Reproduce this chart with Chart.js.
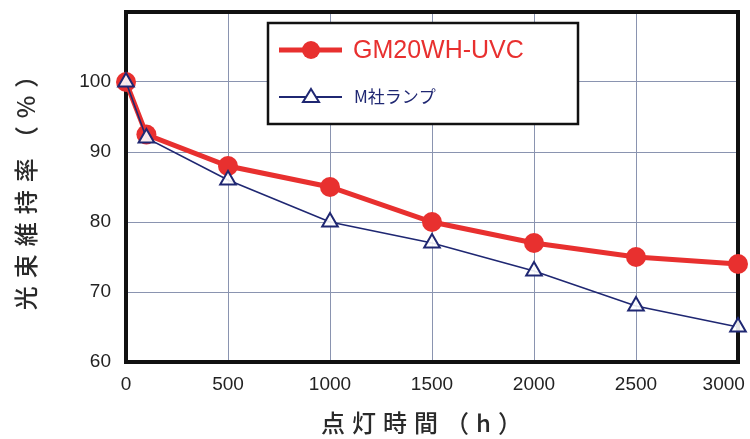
<!DOCTYPE html>
<html><head><meta charset="utf-8">
<script src="https://cdn.jsdelivr.net/npm/chart.js@4"></script>
<style>html,body{margin:0;padding:0;background:#fff}#w{width:750px;height:439px}</style>
</head><body><div id="w"><canvas id="c"></canvas></div>
<script>
const hours = [0, 100, 500, 1000, 1500, 2000, 2500, 3000];
const gmValues = [100, 92.5, 88, 85, 80, 77, 75, 74];
const mValues = [100, 92, 86, 80, 77, 73, 68, 65];
const xTicks = [0, 500, 1000, 1500, 2000, 2500, 3000];
const yTicks = [60, 70, 80, 90, 100];
const seriesNames = ['GM20WH-UVC', 'M社ランプ'];
const yTitle = '光束維持率（%）';
const xTitle = '点灯時間（h）';

const RED = '#e8302f', NAVY = '#1f2772';
const cjk = '"Noto Sans CJK JP", "Noto Sans", sans-serif';
const latin = '"Liberation Sans", Arial, sans-serif';

const decor = {
  id: 'decor',
  beforeDatasetsDraw(chart) {
    const {ctx, chartArea: a} = chart;
    ctx.save();
    ctx.strokeStyle = '#111';
    ctx.lineWidth = 4;
    ctx.strokeRect(a.left, a.top, a.right - a.left, a.bottom - a.top);
    ctx.restore();
  },
  afterDraw(chart) {
    const {ctx} = chart;
    ctx.save();
    // legend box
    ctx.fillStyle = '#fff';
    ctx.fillRect(268, 23, 310, 101);
    ctx.strokeStyle = '#111';
    ctx.lineWidth = 2.5;
    ctx.strokeRect(268, 23, 310, 101);
    // red sample
    ctx.strokeStyle = RED; ctx.lineWidth = 5;
    ctx.beginPath(); ctx.moveTo(279, 50); ctx.lineTo(342, 50); ctx.stroke();
    ctx.fillStyle = RED;
    ctx.beginPath(); ctx.arc(311, 50, 9, 0, Math.PI * 2); ctx.fill();
    ctx.font = '25px ' + latin;
    ctx.textBaseline = 'middle'; ctx.textAlign = 'left';
    ctx.fillText(seriesNames[0], 353, 51);
    // navy sample
    ctx.strokeStyle = NAVY; ctx.lineWidth = 1.8;
    ctx.beginPath(); ctx.moveTo(279, 97); ctx.lineTo(342, 97); ctx.stroke();
    ctx.fillStyle = '#fff'; ctx.lineWidth = 2;
    ctx.beginPath(); ctx.moveTo(311, 89); ctx.lineTo(319, 102); ctx.lineTo(303, 102); ctx.closePath();
    ctx.fill(); ctx.stroke();
    ctx.fillStyle = NAVY;
    ctx.font = '17px ' + cjk;
    ctx.fillText(seriesNames[1], 354, 97);
    // axis titles
    ctx.fillStyle = '#2a2a2a';
    ctx.font = '500 24px ' + cjk;
    ctx.letterSpacing = '7px';
    ctx.textAlign = 'center';
    ctx.fillText(xTitle, 425, 423);
    ctx.translate(26, 183);
    ctx.rotate(-Math.PI / 2);
    ctx.letterSpacing = '8px';
    ctx.fillText(yTitle, 0, 0);
    ctx.restore();
  }
};

new Chart(document.getElementById('c'), {
  type: 'line',
  data: {
    datasets: [
      {
        label: seriesNames[0],
        data: hours.map((h, i) => ({x: h, y: gmValues[i]})),
        borderColor: RED, backgroundColor: RED,
        borderWidth: 5, pointRadius: 10, pointStyle: 'circle',
        pointBackgroundColor: RED, pointBorderColor: RED, pointBorderWidth: 0,
        tension: 0, order: 2, clip: false
      },
      {
        label: seriesNames[1],
        data: hours.map((h, i) => ({x: h, y: mValues[i]})),
        borderColor: NAVY, backgroundColor: '#fff',
        borderWidth: 1.6, pointRadius: 9, pointStyle: 'triangle',
        pointBackgroundColor: 'rgba(255,255,255,0.9)', pointBorderColor: NAVY, pointBorderWidth: 2,
        tension: 0, order: 1, clip: false
      }
    ]
  },
  options: {
    responsive: true, maintainAspectRatio: false, animation: false,
    devicePixelRatio: 1,
    layout: {padding: {left: 0, right: 12, top: 12, bottom: 0}},
    plugins: {legend: {display: false}, tooltip: {enabled: false}},
    scales: {
      x: {
        type: 'linear', min: 0, max: 3000,
        afterBuildTicks: s => { s.ticks = xTicks.map(v => ({value: v})); },
        afterFit: s => { s.height = 77; s.paddingLeft = 0; s.paddingRight = 0; },
        grid: {color: '#8a94b0', lineWidth: 1, drawTicks: false},
        border: {display: false},
        ticks: {
          color: '#222', font: {size: 19, family: latin},
          padding: 11, maxRotation: 0, autoSkip: false,
          callback: v => v === 3000 ? String(v) + '\u2002\u2002\u2002' : String(v)
        }
      },
      y: {
        min: 60, max: 110,
        afterBuildTicks: s => { s.ticks = yTicks.map(v => ({value: v})); },
        afterFit: s => { s.width = 126; s.paddingTop = 0; s.paddingBottom = 0; },
        grid: {color: '#8a94b0', lineWidth: 1, drawTicks: false},
        border: {display: false},
        ticks: {color: '#222', font: {size: 19, family: latin}, padding: 15,
          callback: v => String(v)}
      }
    }
  },
  plugins: [decor]
});
</script>
</body></html>
